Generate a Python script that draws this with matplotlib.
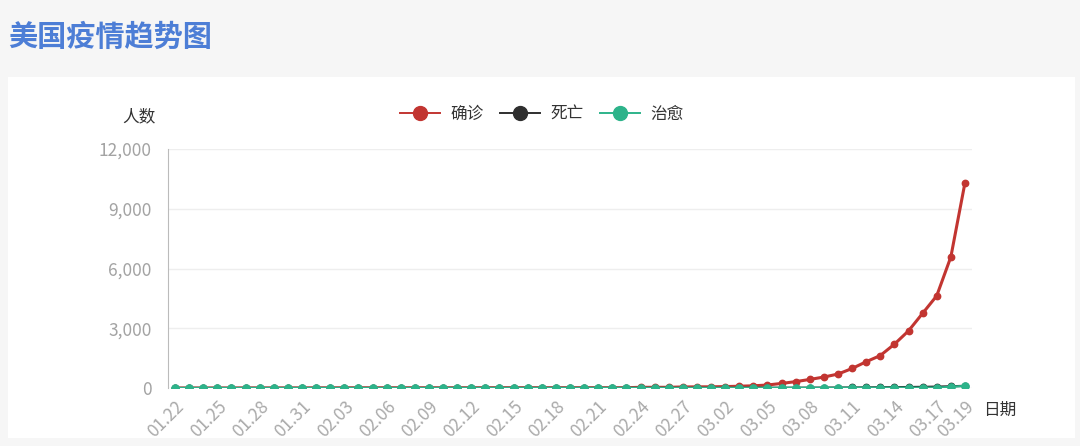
import matplotlib.pyplot as plt
from matplotlib.lines import Line2D
from matplotlib.patches import Rectangle
from matplotlib.ticker import FuncFormatter

plt.rcParams['font.family'] = ['Noto Sans CJK SC', 'DejaVu Sans']

# 日期 (02.29 无数据)
dates = ['01.22', '01.23', '01.24', '01.25', '01.26', '01.27', '01.28', '01.29', '01.30', '01.31',
         '02.01', '02.02', '02.03', '02.04', '02.05', '02.06', '02.07', '02.08', '02.09', '02.10',
         '02.11', '02.12', '02.13', '02.14', '02.15', '02.16', '02.17', '02.18', '02.19', '02.20',
         '02.21', '02.22', '02.23', '02.24', '02.25', '02.26', '02.27', '02.28', '03.01',
         '03.02', '03.03', '03.04', '03.05', '03.06', '03.07', '03.08', '03.09', '03.10', '03.11',
         '03.12', '03.13', '03.14', '03.15', '03.16', '03.17', '03.18', '03.19']

confirmed = [1, 1, 1, 2, 2, 5, 5, 5, 5, 6,
             8, 8, 11, 11, 11, 12, 12, 12, 12, 12,
             13, 13, 14, 15, 15, 15, 15, 15, 15, 15,
             15, 15, 15, 35, 35, 35, 53, 57, 60,
             70, 90, 110, 150, 230, 320, 430, 550, 700, 980,
             1320, 1630, 2200, 2870, 3750, 4630, 6580, 10300]

deaths = [0] * 38 + [1, 2, 6, 9, 11, 12, 14, 17, 19, 22, 26,
                     30, 36, 41, 48, 57, 68, 85, 108]

cured = [0] * 19 + [3] * 12 + [5] * 8 + [7, 7, 7, 7, 8, 8, 8, 8, 8, 12,
                                         12, 12, 12, 12, 12, 17, 56, 106]

x = list(range(len(dates)))
label_idx = list(range(0, len(dates) - 2, 3)) + [len(dates) - 1]

c_red = '#c23531'
c_black = '#2f2f2f'
c_green = '#2db38a'

fig = plt.figure(figsize=(10.8, 4.46), dpi=100)
fig.patch.set_facecolor('#f6f6f6')
fig.patches.append(Rectangle((8 / 1080, 1 - 438 / 446), 1067 / 1080, 361 / 446,
                             transform=fig.transFigure, facecolor='white',
                             edgecolor='none', zorder=-1))

ax = fig.add_axes([168 / 1080, 1 - 388 / 446, 804 / 1080, 239 / 446])
ax.set_facecolor('none')
ax.set_zorder(2)

ax.plot(x, confirmed, color=c_red, lw=2.2, marker='o', ms=4.6, zorder=3)
ax.plot(x, deaths, color=c_black, lw=1.6, marker='o', ms=4.6, zorder=4)
ax.plot(x, cured, color=c_green, lw=1.6, marker='o', ms=5.2, zorder=5)

ax.set_xlim(-0.5, len(dates) - 0.5)
ax.set_ylim(0, 12000)
ax.set_yticks([0, 3000, 6000, 9000, 12000])
ax.yaxis.set_major_formatter(FuncFormatter(lambda v, p: f'{int(v):,}'))
ax.grid(axis='y', color='#eeeeee', lw=1)
ax.set_axisbelow(True)

ax.set_xticks(label_idx)
ax.set_xticklabels([dates[i] for i in label_idx], rotation=45, ha='right', va='top',
                   rotation_mode='anchor', color='#aaaaaa', fontsize=12.5)
ax.tick_params(axis='x', length=0, pad=7)
ax.tick_params(axis='y', length=0, pad=12, labelcolor='#a3a3a3', labelsize=12.5)

for s in ['top', 'right', 'bottom']:
    ax.spines[s].set_visible(False)
ax.spines['left'].set_color('#bbbbbb')

fig.text(8 / 1080, 1 - 37 / 446, '美国疫情趋势图', color='#4d7ed6', fontsize=21,
         fontweight='bold', ha='left', va='center')
fig.text(156 / 1080, 1 - 117 / 446, '人数', color='#333333', fontsize=12,
         ha='right', va='center')
fig.text(983 / 1080, 1 - 410 / 446, '日期', color='#333333', fontsize=12,
         ha='left', va='center')

handles = [Line2D([], [], color=c, lw=1.4, marker='o', ms=10) for c in (c_red, c_black, c_green)]
fig.legend(handles, ['确诊', '死亡', '治愈'], loc='center', ncol=3, frameon=False,
           bbox_to_anchor=(542 / 1080, 1 - 114 / 446), fontsize=12,
           handlelength=2.4, handletextpad=0.6, columnspacing=1.0, labelcolor='#333333')

fig.savefig('out.png', dpi=100, facecolor=fig.get_facecolor())
